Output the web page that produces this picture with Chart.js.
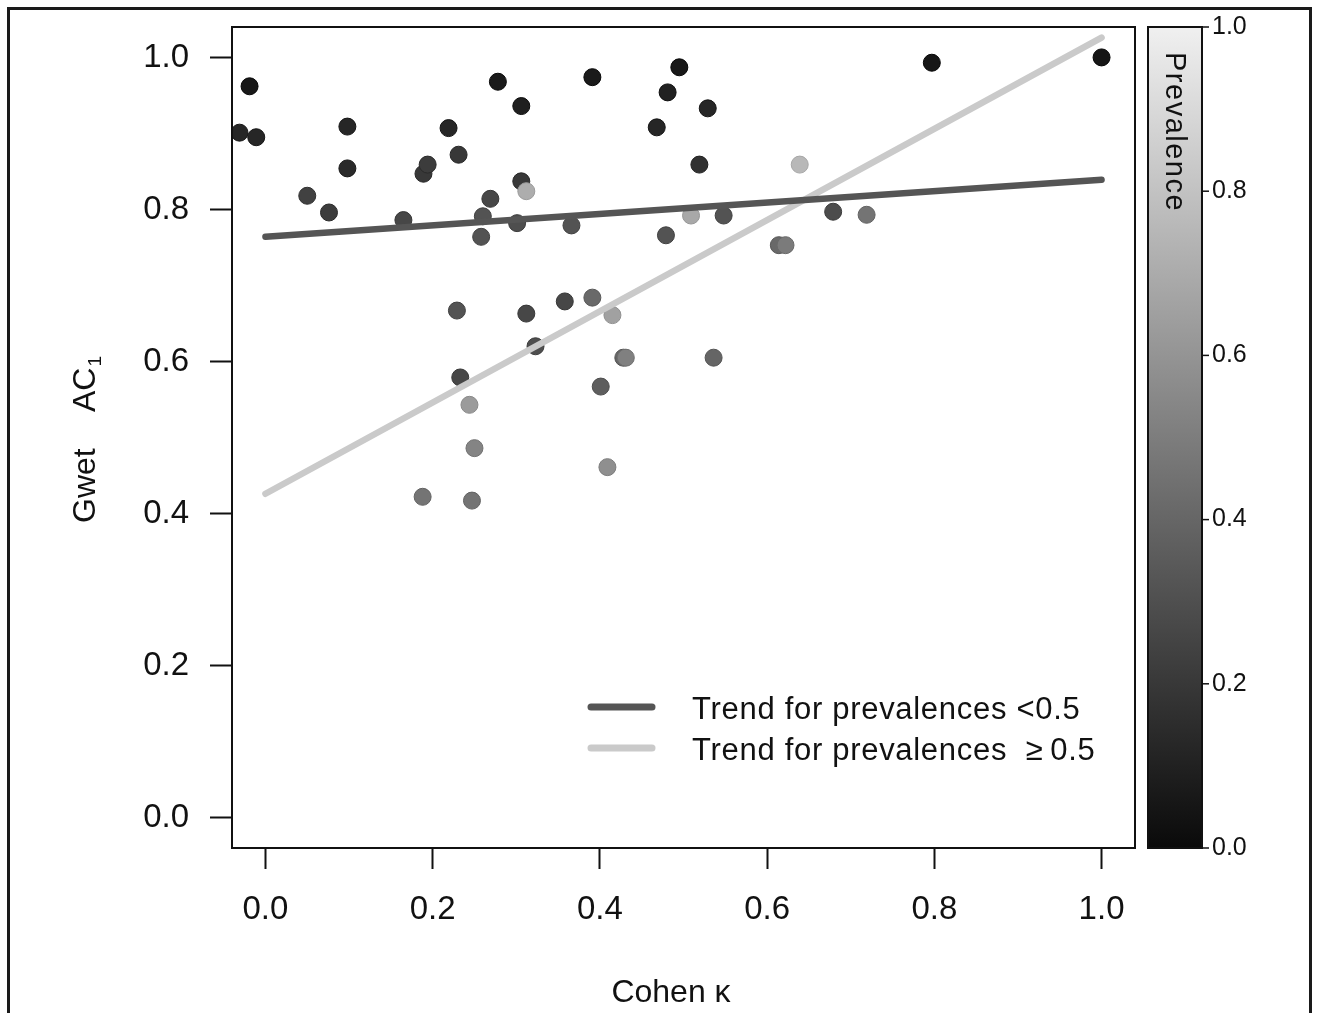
<!DOCTYPE html>
<html>
<head>
<meta charset="UTF-8">
<title>Gwet AC1 vs Cohen kappa</title>
<script src="https://cdn.jsdelivr.net/npm/chart.js"></script>
<style>
  html, body { margin: 0; padding: 0; background: #fff; }
  #wrap { width: 1318px; height: 1013px; }
</style>
</head>
<body>
<div id="wrap"><canvas id="myChart" width="1318" height="1013"></canvas></div>
<script>
// values
const kappa = [-0.031, -0.019, -0.011, 0.050, 0.076, 0.098, 0.098, 0.165, 0.189, 0.194,
               0.219, 0.231, 0.278, 0.269, 0.260, 0.258, 0.301, 0.306, 0.306, 0.312,
               0.366, 0.391, 0.495, 0.481, 0.529, 0.468, 0.519, 0.509, 0.548, 0.479,
               0.614, 0.622, 0.639, 0.679, 0.719, 0.797, 1.000, 0.229, 0.312, 0.358,
               0.391, 0.415, 0.323, 0.428, 0.431, 0.233, 0.244, 0.401, 0.250, 0.409,
               0.188, 0.247, 0.536];
const gwetAC1 = [0.901, 0.962, 0.895, 0.818, 0.796, 0.909, 0.854, 0.786, 0.847, 0.859,
                 0.907, 0.872, 0.968, 0.814, 0.791, 0.764, 0.782, 0.936, 0.837, 0.824,
                 0.779, 0.974, 0.987, 0.954, 0.933, 0.908, 0.859, 0.792, 0.792, 0.766,
                 0.753, 0.753, 0.859, 0.797, 0.793, 0.993, 1.000, 0.667, 0.663, 0.679,
                 0.684, 0.661, 0.620, 0.605, 0.605, 0.579, 0.543, 0.567, 0.486, 0.461,
                 0.422, 0.417, 0.605];
const prevalence = [0.10, 0.04, 0.10, 0.22, 0.20, 0.10, 0.12, 0.25, 0.18, 0.20,
                    0.10, 0.18, 0.05, 0.25, 0.30, 0.30, 0.28, 0.07, 0.18, 0.70,
                    0.30, 0.05, 0.04, 0.08, 0.10, 0.10, 0.15, 0.68, 0.30, 0.30,
                    0.40, 0.48, 0.75, 0.27, 0.45, 0.03, 0.03, 0.30, 0.25, 0.25,
                    0.40, 0.65, 0.28, 0.38, 0.50, 0.25, 0.62, 0.35, 0.52, 0.57,
                    0.45, 0.45, 0.38];
const trendKappa = [0, 1];
const trendLow = [0.764, 0.839];
const trendHigh = [0.426, 1.026];
const axisTicks = [0, 0.2, 0.4, 0.6, 0.8, 1.0];
const prevalenceTicks = [0, 0.2, 0.4, 0.6, 0.8, 1.0];
const legendLabels = ['Trend for prevalences <0.5', 'Trend for prevalences  \u2265\u20090.5'];
const trendColors = ['#555555', '#cacaca'];

const FONT = '"Liberation Sans", Arial, Helvetica, sans-serif';

function grey(p, shift) {
    const g = Math.max(0, Math.round(15 + p * 225) + (shift || 0));
    return 'rgb(' + g + ',' + g + ',' + g + ')';
}

const points = kappa.map((k, i) => ({x: k, y: gwetAC1[i]}));
const lowLine = trendKappa.map((k, i) => ({x: k, y: trendLow[i]}));
const highLine = trendKappa.map((k, i) => ({x: k, y: trendHigh[i]}));

const decor = {
    id: 'decor',
    afterDraw(chart) {
        const ctx = chart.ctx;
        const a = chart.chartArea;
        const cb = chart.scales.cb;
        ctx.save();

        // box round the plot
        ctx.strokeStyle = '#111';
        ctx.lineWidth = 2;
        ctx.strokeRect(a.left, a.top, a.right - a.left, a.bottom - a.top);

        // outer frame
        ctx.strokeStyle = '#1a1a1a';
        ctx.lineWidth = 3;
        ctx.strokeRect(8.5, 8.5, 1302, 1100);

        // colour bar
        const y0 = cb.getPixelForValue(0), y1 = cb.getPixelForValue(1);
        const grad = ctx.createLinearGradient(0, y0, 0, y1);
        grad.addColorStop(0, grey(0, -5));
        grad.addColorStop(1, grey(1));
        ctx.fillStyle = grad;
        ctx.fillRect(1148, y1, 54, y0 - y1);
        ctx.strokeStyle = '#111';
        ctx.lineWidth = 2;
        ctx.strokeRect(1148, y1, 54, y0 - y1);
        ctx.lineWidth = 1.5;
        prevalenceTicks.forEach(v => {
            const y = cb.getPixelForValue(v);
            ctx.beginPath();
            ctx.moveTo(1202, y);
            ctx.lineTo(1209, y);
            ctx.stroke();
        });

        ctx.fillStyle = '#111';
        // colour bar label
        ctx.save();
        ctx.translate(1174, 52);
        ctx.rotate(Math.PI / 2);
        ctx.font = '29px ' + FONT;
        ctx.letterSpacing = '1.5px';
        ctx.textAlign = 'left';
        ctx.textBaseline = 'middle';
        ctx.fillText('Prevalence', 0, 0);
        ctx.restore();

        // y title with subscript
        ctx.save();
        ctx.translate(95, 523);
        ctx.rotate(-Math.PI / 2);
        ctx.textAlign = 'left';
        ctx.textBaseline = 'alphabetic';
        ctx.font = '32px ' + FONT;
        ctx.fillText('Gwet', 0, 0);
        ctx.fillText('AC', 111, 0);
        const acW = ctx.measureText('AC').width;
        ctx.font = '19px ' + FONT;
        ctx.fillText('1', 111 + acW + 1, 6);
        ctx.restore();

        // x title
        ctx.font = '32px ' + FONT;
        ctx.textAlign = 'center';
        ctx.textBaseline = 'middle';
        ctx.fillText('Cohen \u03ba', 671, 993);

        // legend
        const legendY = [707, 748];
        ctx.lineCap = 'round';
        ctx.lineWidth = 7;
        legendLabels.forEach((label, i) => {
            ctx.strokeStyle = trendColors[i];
            ctx.beginPath();
            ctx.moveTo(591, legendY[i]);
            ctx.lineTo(652, legendY[i]);
            ctx.stroke();
            ctx.font = '31px ' + FONT;
            ctx.letterSpacing = '0.7px';
            ctx.textAlign = 'left';
            ctx.textBaseline = 'middle';
            ctx.fillStyle = '#111';
            ctx.fillText(label, 692, legendY[i] + 3);
        });
        ctx.restore();
    }
};

function fixedTicks(list) {
    return s => { s.ticks = list.map(v => ({value: v})); };
}

// set the axis thickness and stop its label padding from pushing the plot area
function fitTo(prop, size) {
    return s => {
        s[prop] = size;
        s.paddingTop = 0;
        s.paddingBottom = 0;
    };
}

const tickFont = {family: FONT, size: 33};

new Chart(document.getElementById('myChart'), {
    type: 'scatter',
    data: {
        datasets: [
            {
                data: lowLine, showLine: true, borderColor: trendColors[0], borderWidth: 6.5,
                borderCapStyle: 'round', pointRadius: 0, fill: false, order: 0
            },
            {
                data: highLine, showLine: true, borderColor: trendColors[1], borderWidth: 6.5,
                borderCapStyle: 'round', pointRadius: 0, fill: false, order: 0
            },
            {
                data: points,
                pointRadius: 8.5,
                pointBackgroundColor: prevalence.map(p => grey(p)),
                pointBorderColor: prevalence.map(p => grey(p, -18)),
                pointBorderWidth: 1,
                order: 1
            }
        ]
    },
    options: {
        responsive: false,
        animation: false,
        events: [],
        layout: {padding: {left: 0, right: 0, top: 27, bottom: 0}},
        plugins: {legend: {display: false}, tooltip: {enabled: false}},
        scales: {
            x: {
                type: 'linear', min: -0.04, max: 1.04,
                afterBuildTicks: fixedTicks(axisTicks),
                afterFit: s => { s.height = 165; },
                border: {display: false},
                grid: {drawOnChartArea: false, drawTicks: true, tickLength: 21, tickWidth: 2, tickColor: '#111'},
                ticks: {font: tickFont, color: '#111', padding: 21, maxRotation: 0, autoSkip: false,
                        callback: v => v.toFixed(1)}
            },
            y: {
                type: 'linear', min: -0.04, max: 1.04,
                afterBuildTicks: fixedTicks(axisTicks),
                afterFit: fitTo('width', 232),
                border: {display: false},
                grid: {drawOnChartArea: false, drawTicks: true, tickLength: 22, tickWidth: 2, tickColor: '#111'},
                ticks: {font: tickFont, color: '#111', padding: 21, autoSkip: false,
                        callback: v => v.toFixed(1)}
            },
            cb: {
                type: 'linear', position: 'right', min: 0, max: 1,
                afterBuildTicks: fixedTicks(prevalenceTicks),
                afterFit: fitTo('width', 183),
                border: {display: false},
                grid: {display: false, drawTicks: false},
                ticks: {font: {family: FONT, size: 25}, color: '#111', padding: 77, autoSkip: false,
                        callback: v => v.toFixed(1)}
            }
        }
    },
    plugins: [decor]
});
</script>
</body>
</html>
